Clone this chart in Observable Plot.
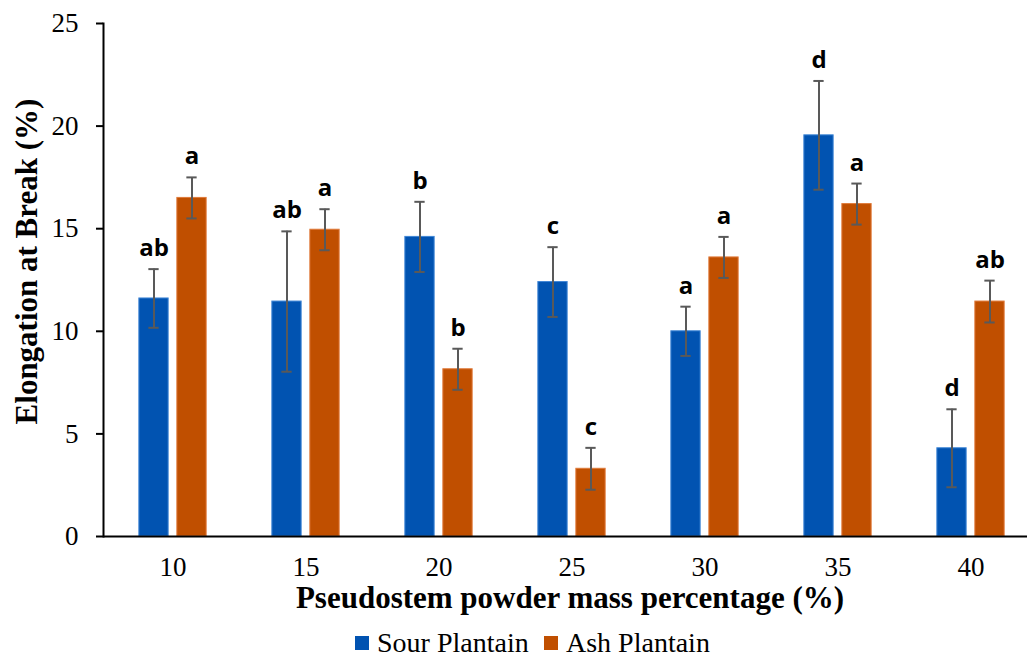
<!DOCTYPE html>
<html>
<head>
<meta charset="utf-8">
<script src="https://cdn.jsdelivr.net/npm/d3@7"></script>
<script src="https://cdn.jsdelivr.net/npm/@observablehq/plot@0.6"></script>
<style>
  body { margin: 0; background: #fff; }
  #chart svg { display: block; }
  #legend { position: relative; width: 1027px; height: 36px; font-family: "Liberation Serif", serif; font-size: 28px; color: #000; }
  #legend .item { position: absolute; top: 0; height: 36px; display: flex; align-items: center; white-space: nowrap; }
  #legend .sw { display: inline-block; width: 14px; height: 14px; margin-right: 8px; }
</style>
</head>
<body>
<div id="chart"></div>
<div id="legend"></div>
<script>
// ---- data ----
const groups = ["10", "15", "20", "25", "30", "35", "40"];
const seriesNames = ["Sour Plantain", "Ash Plantain"];
const seriesColors = ["#0153B1", "#C04F00"];
const sourMean = [11.6, 11.45, 14.6, 12.4, 10.0, 19.55, 4.3];
const sourErr = [1.43, 3.42, 1.71, 1.7, 1.2, 2.65, 1.9];
const ashMean = [16.5, 14.95, 8.15, 3.3, 13.6, 16.2, 11.45];
const ashErr = [1.0, 1.0, 1.0, 1.02, 1.0, 1.0, 1.02];
const sourLetters = ["ab", "ab", "b", "c", "a", "d", "d"];
const ashLetters = ["a", "a", "b", "c", "a", "a", "ab"];
const yTicks = [0, 5, 10, 15, 20, 25];

// ---- build table ----
const rows = groups.flatMap((g, i) => [
  {group: g, series: seriesNames[0], mean: sourMean[i], err: sourErr[i], letter: sourLetters[i]},
  {group: g, series: seriesNames[1], mean: ashMean[i], err: ashErr[i], letter: ashLetters[i]}
]);

const W = 1027, H = 625;
const mL = 103, mT = 23, mB = 89, mR = 0;
const band = 133.7;
const barW = 30, capW = 11;
const offsets = {"Sour Plantain": -19, "Ash Plantain": 19};
const edges = {"Sour Plantain": "#3f86d6", "Ash Plantain": "#e07a3a"};
const errColor = "#595959";

const marks = [];
for (const s of seriesNames) {
  const d = rows.filter(r => r.series === s);
  const dx = offsets[s];
  marks.push(Plot.barY(d, {x: "group", y: "mean", fill: "series", stroke: edges[s], strokeWidth: 1,
    insetLeft: (band - barW) / 2, insetRight: (band - barW) / 2, dx}));
  marks.push(Plot.ruleX(d, {x: "group", y1: r => r.mean - r.err, y2: r => r.mean + r.err, dx,
    stroke: errColor, strokeWidth: 2}));
  marks.push(Plot.tickY(d, {x: "group", y: r => r.mean + r.err, dx, stroke: errColor, strokeWidth: 2,
    insetLeft: (band - capW) / 2, insetRight: (band - capW) / 2}));
  marks.push(Plot.tickY(d, {x: "group", y: r => r.mean - r.err, dx, stroke: errColor, strokeWidth: 2,
    insetLeft: (band - capW) / 2, insetRight: (band - capW) / 2}));
  marks.push(Plot.text(d, {x: "group", y: r => r.mean + r.err, text: "letter", dx, dy: -13,
    lineAnchor: "bottom", fontFamily: "Open Sans", fontWeight: "bold", fontSize: 24, fill: "#000"}));
}

const chart = Plot.plot({
  width: W,
  height: H,
  marginLeft: mL,
  marginRight: mR,
  marginTop: mT,
  marginBottom: mB,
  style: {fontFamily: "Liberation Serif", fontSize: "27px", color: "#000", background: "#fff", overflow: "visible"},
  x: {domain: groups, range: [mL + 0.85, mL + 0.85 + band * groups.length], padding: 0},
  y: {domain: [0, 25]},
  color: {domain: seriesNames, range: seriesColors},
  marks: [
    ...marks,
    Plot.ruleY([0], {stroke: "#000", strokeWidth: 2}),
    Plot.frame({anchor: "left", stroke: "#000", strokeWidth: 2}),
    Plot.axisY({ticks: yTicks, tickSize: 7, tickPadding: 18, tickFormat: d => String(d), label: null,
      fontSize: 27, strokeWidth: 2}),
    Plot.axisX({tickSize: 0, tickPadding: 20, label: null, fontSize: 27}),
    Plot.text(["Pseudostem powder mass percentage (%)"], {text: d => d, frameAnchor: "bottom",
      lineAnchor: "bottom", dx: 4.5, dy: 607 - (H - mB), fontSize: 31, fontWeight: "bold",
      fontFamily: "Liberation Serif", fill: "#000"}),
    Plot.text(["Elongation at Break (%)"], {text: d => d, frameAnchor: "left", rotate: -90,
      textAnchor: "middle", lineAnchor: "bottom", dx: 36 - mL, dy: 261 - (mT + (H - mB)) / 2,
      fontSize: 31, fontWeight: "bold", fontFamily: "Liberation Serif", fill: "#000"})
  ]
});
document.getElementById("chart").appendChild(chart);

// ---- legend (HTML, below the SVG) ----
const legend = document.getElementById("legend");
const legendLeft = [355, 544];
seriesNames.forEach((s, i) => {
  const item = document.createElement("div");
  item.className = "item";
  item.style.left = legendLeft[i] + "px";
  const sw = document.createElement("span");
  sw.className = "sw";
  sw.style.background = seriesColors[i];
  item.appendChild(sw);
  item.appendChild(document.createTextNode(s));
  legend.appendChild(item);
});
</script>
</body>
</html>
